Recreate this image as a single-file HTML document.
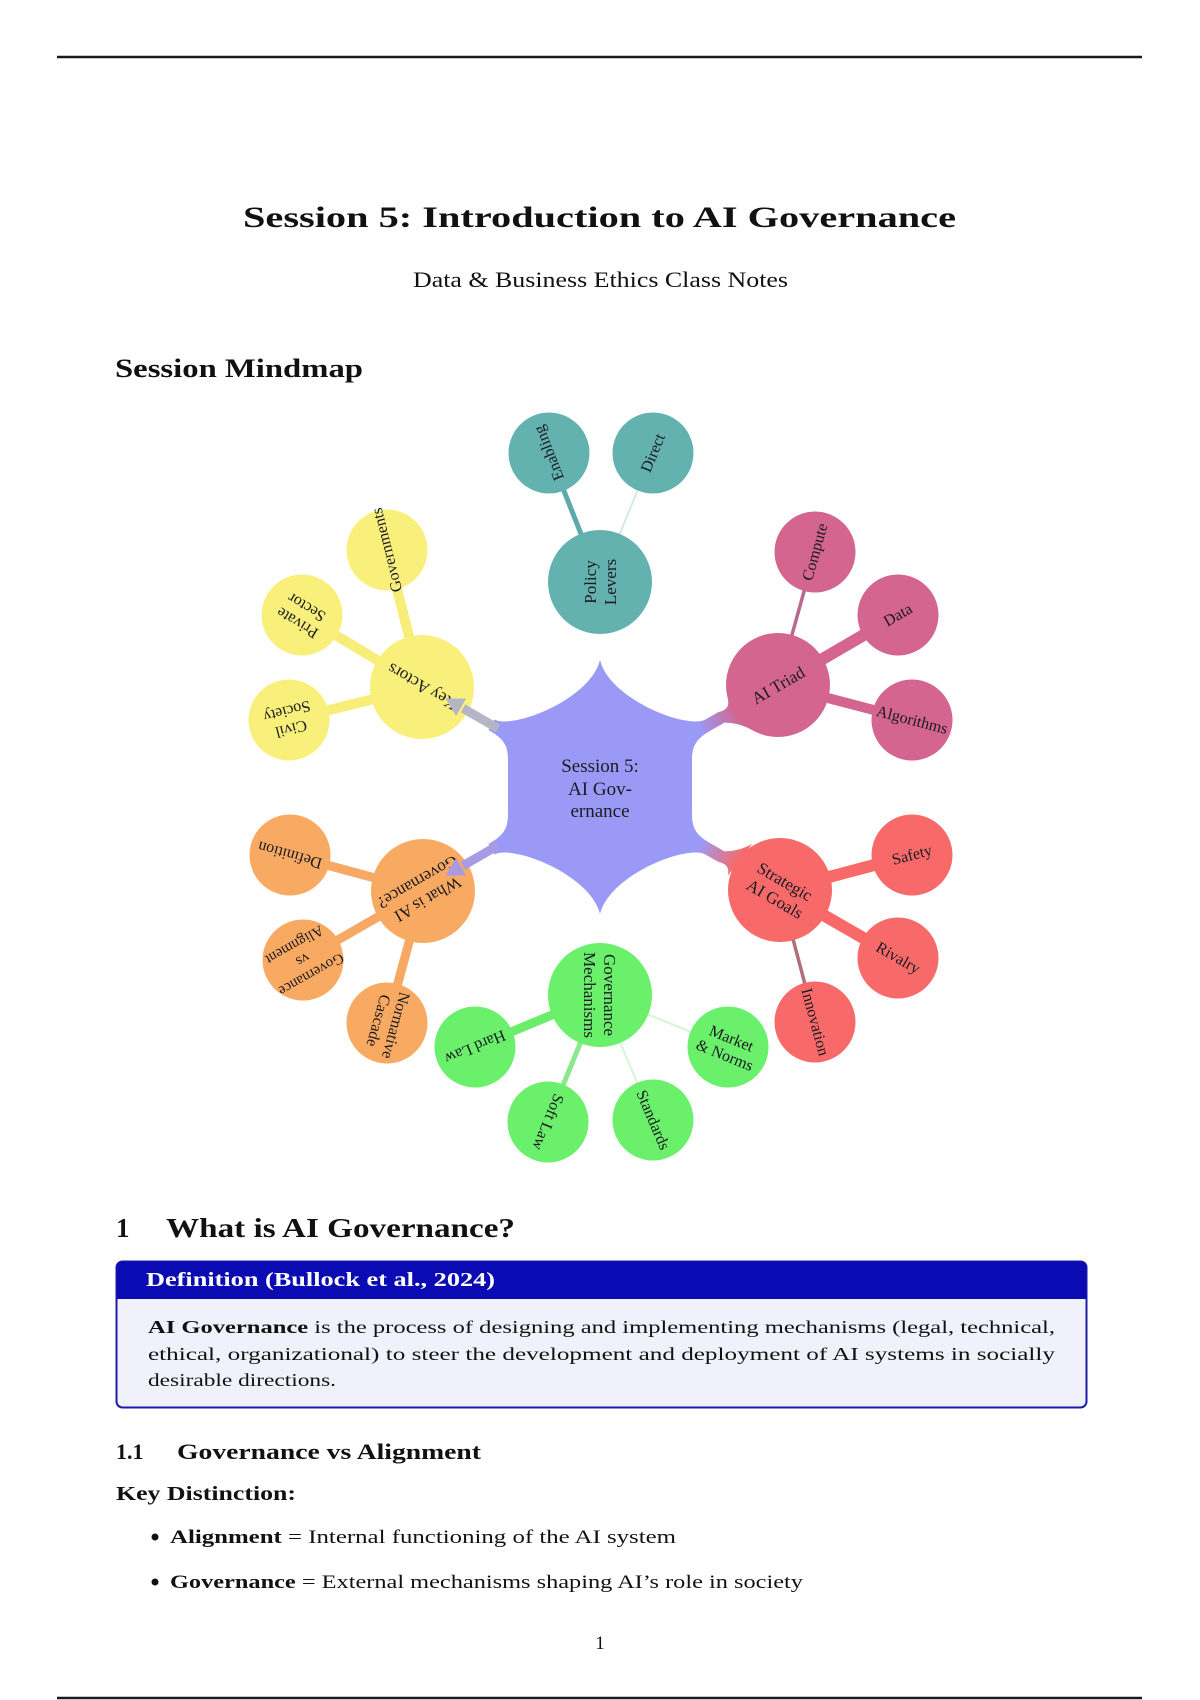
<!DOCTYPE html>
<html><head><meta charset="utf-8"><style>html,body{margin:0;padding:0;background:#fff}svg{display:block}</style></head>
<body>
<svg xmlns="http://www.w3.org/2000/svg" width="1200" height="1700" viewBox="0 0 1200 1700" font-family="'Liberation Serif', serif">
<defs>
<linearGradient id="gAT" gradientUnits="userSpaceOnUse" x1="698" y1="728" x2="735" y2="707"><stop offset="0" stop-color="#9a9af6"/><stop offset="1" stop-color="#d3658e"/></linearGradient>
<linearGradient id="gSG" gradientUnits="userSpaceOnUse" x1="698" y1="728" x2="735" y2="707"><stop offset="0" stop-color="#9a9af6"/><stop offset="1" stop-color="#f86a6a"/></linearGradient>
</defs>
<rect width="1200" height="1700" fill="#fff"/>
<line x1="57" y1="57" x2="1142" y2="57" stroke="#1a1a1a" stroke-width="2.5"/>
<line x1="57" y1="1698" x2="1142" y2="1698" stroke="#1a1a1a" stroke-width="2.5"/>

<text x="243" y="227" font-size="30" font-weight="bold" fill="#111" textLength="713" lengthAdjust="spacingAndGlyphs">Session 5: Introduction to AI Governance</text>
<text x="413" y="287" font-size="22" fill="#111" textLength="375" lengthAdjust="spacingAndGlyphs">Data &amp; Business Ethics Class Notes</text>
<text x="115" y="377" font-size="26" font-weight="bold" fill="#111" textLength="248" lengthAdjust="spacingAndGlyphs">Session Mindmap</text>

<!-- leaf connections -->
<g fill="none">
<line x1="600" y1="582" x2="549" y2="453" stroke="#5ea9a9" stroke-width="5"/>
<line x1="600" y1="582" x2="653" y2="453" stroke="#d3eae9" stroke-width="2"/>
<line x1="422" y1="687" x2="387" y2="550" stroke="#f7ee7a" stroke-width="10"/>
<line x1="422" y1="687" x2="302" y2="615" stroke="#f7ee7a" stroke-width="10"/>
<line x1="422" y1="687" x2="289" y2="720" stroke="#f7ee7a" stroke-width="10"/>
<line x1="423" y1="891" x2="290" y2="855" stroke="#f7a862" stroke-width="9"/>
<line x1="423" y1="891" x2="303" y2="960" stroke="#f7a862" stroke-width="9"/>
<line x1="423" y1="891" x2="387" y2="1023" stroke="#f7a862" stroke-width="9"/>
<line x1="600" y1="995" x2="475" y2="1047" stroke="#6aee6a" stroke-width="9"/>
<line x1="600" y1="995" x2="548" y2="1122" stroke="#8ce88c" stroke-width="5"/>
<line x1="600" y1="995" x2="653" y2="1120" stroke="#d6f5d6" stroke-width="2"/>
<line x1="600" y1="995" x2="728" y2="1047" stroke="#d6f5d6" stroke-width="2"/>
<line x1="778" y1="685" x2="815" y2="552" stroke="#b86a8e" stroke-width="3.5"/>
<line x1="778" y1="685" x2="898" y2="615" stroke="#d3658e" stroke-width="12"/>
<line x1="778" y1="685" x2="912" y2="720" stroke="#d3658e" stroke-width="10"/>
<line x1="780" y1="890" x2="912" y2="855" stroke="#f86a6a" stroke-width="12"/>
<line x1="780" y1="890" x2="898" y2="958" stroke="#f86a6a" stroke-width="12"/>
<line x1="780" y1="890" x2="815" y2="1022" stroke="#b0707a" stroke-width="3.5"/>
</g>

<!-- hub -->
<circle cx="600" cy="787" r="91" fill="#9a9af6"/>
<path fill="#9a9af6" d="M 600 660 C 610 700 688 729.5 705.5 719.5 L 718.5 712.1 Q 730.8 709.5 727.8 698.5 L 752 730 Q 740 723 724.5 722.5 L 711.5 730 C 696.7 738.5 692 745 692 760 L 692 814 C 692 829 696.7 835.5 711.5 844 L 724.5 851.5 Q 740 851 752 844 L 727.8 875.5 Q 730.8 864.5 718.5 861.9 L 705.5 854.5 C 688 844.5 610 874 600 914 C 590 874 512 844.5 494.5 854.5 L 488.5 844 C 503.3 835.5 508 829 508 814 L 508 760 C 508 745 503.3 738.5 488.5 730 L 494.5 719.5 C 512 729.5 590 700 600 660 Z"/>
<path fill="url(#gAT)" d="M 699.4 723 L 705.5 719.5 L 718.5 712.1 Q 730.8 709.5 727.8 698.5 L 752 730 Q 740 723 724.5 722.5 L 711.5 730 L 705.4 733.4 Z"/>
<path fill="url(#gSG)" transform="matrix(1,0,0,-1,0,1574)" d="M 699.4 723 L 705.5 719.5 L 718.5 712.1 Q 730.8 709.5 727.8 698.5 L 752 730 Q 740 723 724.5 722.5 L 711.5 730 L 705.4 733.4 Z"/>

<!-- level 1 circles -->
<circle cx="600" cy="582" r="52" fill="#63b2af"/>
<circle cx="778" cy="685" r="52" fill="#d3658e"/>
<circle cx="780" cy="890" r="52" fill="#f86a6a"/>
<circle cx="600" cy="995" r="52" fill="#6af06a"/>
<circle cx="423" cy="891" r="52" fill="#f9aa62"/>
<circle cx="422" cy="687" r="52" fill="#f9f07c"/>

<!-- leaves -->
<g>
<circle cx="549" cy="453" r="40.5" fill="#63b2af"/>
<circle cx="653" cy="453" r="40.5" fill="#63b2af"/>
<circle cx="387" cy="550" r="40.5" fill="#f9f07c"/>
<circle cx="302" cy="615" r="40.5" fill="#f9f07c"/>
<circle cx="289" cy="720" r="40.5" fill="#f9f07c"/>
<circle cx="290" cy="855" r="40.5" fill="#f9aa62"/>
<circle cx="303" cy="960" r="40.5" fill="#f9aa62"/>
<circle cx="387" cy="1023" r="40.5" fill="#f9aa62"/>
<circle cx="475" cy="1047" r="40.5" fill="#6af06a"/>
<circle cx="548" cy="1122" r="40.5" fill="#6af06a"/>
<circle cx="653" cy="1120" r="40.5" fill="#6af06a"/>
<circle cx="728" cy="1047" r="40.5" fill="#6af06a"/>
<circle cx="815" cy="552" r="40.5" fill="#d3658e"/>
<circle cx="898" cy="615" r="40.5" fill="#d3658e"/>
<circle cx="912" cy="720" r="40.5" fill="#d3658e"/>
<circle cx="912" cy="855" r="40.5" fill="#f86a6a"/>
<circle cx="898" cy="958" r="40.5" fill="#f86a6a"/>
<circle cx="815" cy="1022" r="40.5" fill="#f86a6a"/>
</g>

<!-- texts -->
<g fill="#1a1a22" text-anchor="middle">
<text x="600" font-size="19"><tspan x="600" y="772">Session 5:</tspan><tspan x="600" y="795">AI Gov-</tspan><tspan x="600" y="817">ernance</tspan></text>

<g font-size="17">
<text transform="translate(600,582) rotate(-90)"><tspan x="0" y="-4">Policy</tspan><tspan x="0" y="16">Levers</tspan></text>
<text transform="translate(778,685) rotate(-30)" x="0" y="6">AI Triad</text>
<text transform="translate(780,890) rotate(30)"><tspan x="0" y="-4">Strategic</tspan><tspan x="0" y="16">AI Goals</tspan></text>
<text transform="translate(600,995) rotate(90)"><tspan x="0" y="-4">Governance</tspan><tspan x="0" y="16">Mechanisms</tspan></text>
<text transform="translate(423,891) rotate(150)"><tspan x="0" y="-4">What is AI</tspan><tspan x="0" y="16">Governance?</tspan></text>
<text transform="translate(422,687) rotate(-150)" x="0" y="6">Key Actors</text>
</g>

<g font-size="16">
<text transform="translate(549,453) rotate(-111.6)" x="0" y="5">Enabling</text>
<text transform="translate(653,453) rotate(-67.7)" x="0" y="5">Direct</text>
<text transform="translate(387,550) rotate(-104)" x="0" y="5">Governments</text>
<text transform="translate(302,615) rotate(-149)"><tspan x="0" y="-4">Private</tspan><tspan x="0" y="14">Sector</tspan></text>
<text transform="translate(289,720) rotate(166)"><tspan x="0" y="-4">Civil</tspan><tspan x="0" y="14">Society</tspan></text>
<text transform="translate(290,855) rotate(195.5)" x="0" y="5">Definition</text>
<text transform="translate(303,960) rotate(150.5)" font-size="15"><tspan x="0" y="-12">Governance</tspan><tspan x="0" y="5">vs</tspan><tspan x="0" y="22">Alignment</tspan></text>
<text transform="translate(387,1023) rotate(105.4)"><tspan x="0" y="-4">Normative</tspan><tspan x="0" y="14">Cascade</tspan></text>
<text transform="translate(475,1047) rotate(157.4)" x="0" y="5">Hard Law</text>
<text transform="translate(548,1122) rotate(112.3)" x="0" y="5">Soft Law</text>
<text transform="translate(653,1120) rotate(67)" x="0" y="5">Standards</text>
<text transform="translate(728,1047) rotate(22)"><tspan x="0" y="-4">Market</tspan><tspan x="0" y="14">&amp; Norms</tspan></text>
<text transform="translate(815,552) rotate(-74.5)" x="0" y="5">Compute</text>
<text transform="translate(898,615) rotate(-30)" x="0" y="5">Data</text>
<text transform="translate(912,720) rotate(14.6)" x="0" y="5">Algorithms</text>
<text transform="translate(912,855) rotate(-14.8)" x="0" y="5">Safety</text>
<text transform="translate(898,958) rotate(30)" x="0" y="5">Rivalry</text>
<text transform="translate(815,1022) rotate(75)" x="0" y="5">Innovation</text>
</g>
</g>

<!-- arrows -->
<line x1="498" y1="728.5" x2="463" y2="708.3" stroke="#b5b5c5" stroke-width="9"/>
<polygon points="445.5,698.4 466.1,698.6 456.1,716" fill="#b5b5c5"/>
<line x1="498" y1="845.5" x2="463" y2="865.7" stroke="#a79ce4" stroke-width="9"/>
<polygon points="445.5,875.6 466.1,875.4 456.1,858" fill="#a79ce4"/>

<!-- Section 1 -->
<text x="116" y="1237" font-size="27" font-weight="bold" fill="#111">1</text>
<text x="166" y="1237" font-size="27" font-weight="bold" fill="#111" textLength="349" lengthAdjust="spacingAndGlyphs">What is AI Governance?</text>

<rect x="116.5" y="1261.5" width="970" height="146" rx="6" fill="#f1f1fb" stroke="#1c1ca8" stroke-width="2"/>
<path d="M116.5,1299 V1267.5 Q116.5,1261.5 122.5,1261.5 H1080.5 Q1086.5,1261.5 1086.5,1267.5 V1299 Z" fill="#0b0bb3"/>
<text x="146" y="1286" font-size="20" font-weight="bold" fill="#fff" textLength="349" lengthAdjust="spacingAndGlyphs">Definition (Bullock et al., 2024)</text>

<g font-size="18" fill="#111">
<text x="148" y="1333" textLength="907" lengthAdjust="spacingAndGlyphs"><tspan font-weight="bold">AI Governance</tspan> is the process of designing and implementing mechanisms (legal, technical,</text>
<text x="148" y="1360" textLength="907" lengthAdjust="spacingAndGlyphs">ethical, organizational) to steer the development and deployment of AI systems in socially</text>
<text x="148" y="1386" textLength="188" lengthAdjust="spacingAndGlyphs">desirable directions.</text>
</g>

<text x="116" y="1459" font-size="22" font-weight="bold" fill="#111">1.1</text>
<text x="177" y="1459" font-size="22" font-weight="bold" fill="#111" textLength="304" lengthAdjust="spacingAndGlyphs">Governance vs Alignment</text>
<text x="116" y="1500" font-size="20" font-weight="bold" fill="#111" textLength="180" lengthAdjust="spacingAndGlyphs">Key Distinction:</text>

<g font-size="19" fill="#111">
<circle cx="155" cy="1537" r="3.5" fill="#111"/>
<text x="170" y="1543" textLength="506" lengthAdjust="spacingAndGlyphs"><tspan font-weight="bold">Alignment</tspan> = Internal functioning of the AI system</text>
<circle cx="155" cy="1582" r="3.5" fill="#111"/>
<text x="170" y="1588" textLength="633" lengthAdjust="spacingAndGlyphs"><tspan font-weight="bold">Governance</tspan> = External mechanisms shaping AI’s role in society</text>
<text x="600" y="1649" text-anchor="middle">1</text>
</g>
</svg>
</body></html>
